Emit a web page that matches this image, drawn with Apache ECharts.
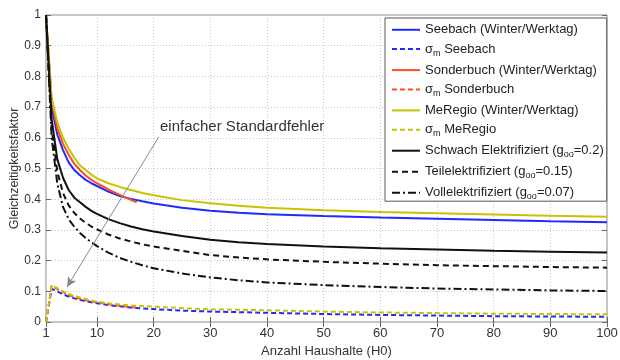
<!DOCTYPE html>
<html><head><meta charset="utf-8">
<script src="https://cdn.jsdelivr.net/npm/echarts@6/dist/echarts.min.js"></script>
<style>html,body{margin:0;padding:0;background:#fff}#c{width:620px;height:360px}</style>
</head><body><div id="c"></div>
<script>
const xTicks = [1,10,20,30,40,50,60,70,80,90,100];
const nLong  = [1,2,3,4,5,6,7,8,9,10,12,14,16,18,20,25,30,35,40,50,60,70,80,90,100];
const nShort = [1,2,3,4,5,6,7,8,9,10,12,14,16,17];

const seebach   = [1.0,0.70,0.61,0.56,0.52,0.495,0.478,0.463,0.452,0.443,0.425,0.41,0.401,0.393,0.386,0.372,0.362,0.356,0.351,0.345,0.340,0.336,0.332,0.328,0.325];
const sigSeebach= [0,0.108,0.10,0.09,0.083,0.077,0.072,0.068,0.064,0.061,0.055,0.051,0.047,0.044,0.042,0.037,0.034,0.032,0.030,0.026,0.023,0.021,0.019,0.018,0.017];
const sonderbuch   = [1.0,0.72,0.63,0.58,0.545,0.515,0.495,0.477,0.463,0.452,0.432,0.414,0.398,0.39];
const sigSonderbuch= [0,0.118,0.107,0.097,0.088,0.081,0.076,0.071,0.067,0.064,0.058,0.053,0.049,0.047];
const meregio   = [1.0,0.73,0.65,0.60,0.565,0.535,0.51,0.495,0.48,0.468,0.452,0.44,0.43,0.42,0.413,0.397,0.387,0.379,0.372,0.364,0.358,0.354,0.35,0.346,0.343];
const sigMeregio= [0,0.12,0.11,0.10,0.091,0.085,0.08,0.075,0.07,0.066,0.061,0.057,0.054,0.052,0.05,0.045,0.041,0.04,0.038,0.034,0.031,0.029,0.027,0.026,0.025];
const schwach = [1.0,0.66,0.53,0.47,0.43,0.405,0.39,0.375,0.362,0.352,0.335,0.322,0.311,0.302,0.295,0.28,0.268,0.26,0.254,0.246,0.240,0.236,0.232,0.229,0.226];
const teil    = [1.0,0.63,0.49,0.42,0.38,0.355,0.337,0.323,0.311,0.302,0.285,0.272,0.262,0.253,0.246,0.232,0.218,0.21,0.204,0.196,0.19,0.185,0.182,0.179,0.177];
const voll    = [1.0,0.60,0.45,0.375,0.335,0.31,0.29,0.274,0.26,0.247,0.226,0.209,0.196,0.185,0.175,0.158,0.145,0.136,0.129,0.12,0.114,0.109,0.106,0.103,0.101];

const annoStart = [20.9, 0.603];
const annoEnd = [4.7, 0.114];
const annoText = 'einfacher Standardfehler';

const names = ['Seebach (Winter/Werktag)','σm Seebach','Sonderbuch (Winter/Werktag)','σm Sonderbuch','MeRegio (Winter/Werktag)','σm MeRegio','Schwach Elektrifiziert (goo=0.2)','Teilelektrifiziert (goo=0.15)','Vollelektrifiziert (goo=0.07)'];

const FONT = 'Liberation Sans, Arial, sans-serif';
const zip = (xs, ys) => xs.map((x, i) => [x, ys[i]]);

function mk(name, xs, ys, color, type, width) {
  return {
    type: 'line', name, data: zip(xs, ys), symbol: 'none', smooth: false,
    lineStyle: { color, width, type }, itemStyle: { color }, z: 3
  };
}
const BLUE = '#1f2bff', RED = '#ff4a24', YEL = '#c6c400', BLK = '#111';

const series = [
  mk(names[0], nLong, seebach, BLUE, 'solid', 2),
  mk(names[1], nLong, sigSeebach, BLUE, [5,3], 2),
  mk(names[2], nShort, sonderbuch, RED, 'solid', 2),
  mk(names[3], nShort, sigSonderbuch, RED, [5,3], 2),
  mk(names[4], nLong, meregio, YEL, 'solid', 2),
  mk(names[5], nLong, sigMeregio, YEL, [5,3], 2),
  mk(names[6], nLong, schwach, BLK, 'solid', 2),
  mk(names[7], nLong, teil, BLK, [6,4], 2),
  mk(names[8], nLong, voll, BLK, [8,3,2,3], 2),
  {
    type: 'line', name: '_anno', data: [], symbol: 'none',
    markLine: {
      silent: true, symbol: ['none', 'arrow'], symbolSize: [7, 10],
      lineStyle: { color: '#888', width: 1, type: 'solid' },
      label: { show: false },
      data: [[{ coord: annoStart }, { coord: annoEnd }]]
    }
  }
];

function fmt(name) {
  if (name.indexOf('σm') === 0) return '{n|σ}{s|m}{n|' + name.slice(2) + '}';
  const m = name.match(/^(.*\(g)oo(=.*)$/);
  if (m) return '{n|' + m[1] + '}{s|oo}{n|' + m[2] + '}';
  return '{n|' + name + '}';
}

const chart = echarts.init(document.getElementById('c'), null, { renderer: 'canvas' });
chart.setOption({
  animation: false,
  backgroundColor: '#fff',
  textStyle: { fontFamily: FONT },
  grid: { left: 46, right: 13, top: 15, bottom: 38, outerBoundsMode: 'none', containLabel: false, show: true, borderColor: '#8a8a8a', borderWidth: 1, backgroundColor: 'transparent' },
  xAxis: [{
    type: 'value', min: 1, max: 100,
    name: 'Anzahl Haushalte (H0)', nameLocation: 'middle', nameGap: 21,
    nameTextStyle: { fontSize: 13, color: '#333', fontFamily: FONT },
    axisLine: { show: false },
    axisTick: { show: true, inside: true, length: 5, customValues: xTicks, lineStyle: { color: '#666' } },
    axisLabel: { show: true, customValues: xTicks, fontSize: 13, color: '#333', margin: 5, fontFamily: FONT },
    splitLine: { show: true, lineStyle: { color: '#c8c8c8', type: [1, 2], width: 1 } }
  }, {
    type: 'value', min: 1, max: 100, position: 'top',
    axisLine: { show: false },
    axisTick: { show: true, inside: true, length: 5, customValues: xTicks, lineStyle: { color: '#666' } },
    axisLabel: { show: false, customValues: xTicks },
    splitLine: { show: false }
  }],
  yAxis: [{
    type: 'value', min: 0, max: 1, interval: 0.1,
    name: 'Gleichzeitigkeitsfaktor', nameLocation: 'middle', nameGap: 25, nameMoveOverlap: false,
    nameTextStyle: { fontSize: 12.5, color: '#333', fontFamily: FONT },
    axisLine: { show: false },
    axisTick: { show: true, inside: true, length: 5, lineStyle: { color: '#666' } },
    axisLabel: { fontSize: 12, color: '#333', margin: 5, fontFamily: FONT },
    splitLine: { show: true, lineStyle: { color: '#c8c8c8', type: [1, 2], width: 1 } }
  }, {
    type: 'value', min: 0, max: 1, interval: 0.1, position: 'right',
    axisLine: { show: false },
    axisTick: { show: true, inside: true, length: 5, lineStyle: { color: '#666' } },
    axisLabel: { show: false },
    splitLine: { show: false }
  }],
  legend: {
    data: names, orient: 'vertical', left: 385, top: 18,
    itemWidth: 28, itemHeight: 17, itemGap: 5.7,
    padding: [5, 3, 0, 6],
    borderColor: '#555', borderWidth: 1, backgroundColor: '#fff',
    itemStyle: { opacity: 0 },
    formatter: fmt,
    textStyle: {
      fontSize: 13, color: '#222', fontFamily: FONT,
      rich: {
        n: { fontSize: 13, lineHeight: 17, color: '#222', fontFamily: FONT },
        s: { fontSize: 9, verticalAlign: 'bottom', color: '#222', fontFamily: FONT }
      }
    }
  },
  graphic: [{
    type: 'text', left: 160, top: 119, z: 10,
    style: { text: annoText, font: '15px ' + FONT, fill: '#333' }
  }],
  series
});
</script></body></html>
